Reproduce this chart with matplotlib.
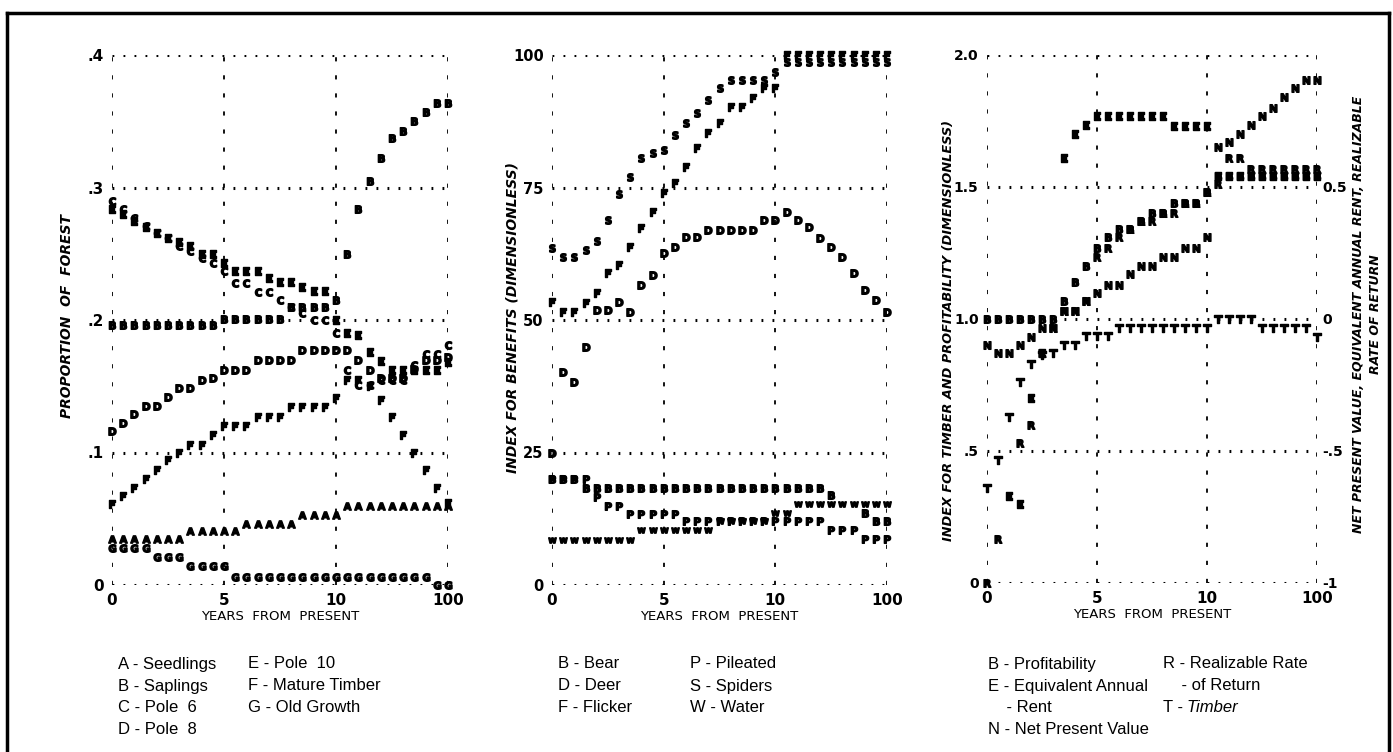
import numpy as np
import matplotlib
matplotlib.use('Agg')
import matplotlib.pyplot as plt
from matplotlib.lines import Line2D

nan = np.nan

# x positions: 10 steps per segment (0-5, 5-10, 10-100 years)
steps = np.arange(31)
xtick_pos = [0, 10, 20, 30]
xtick_lab = ['0', '5', '10', '100']

# ---- panel 1: proportion of forest ----
forest_A = [.035, .035, .035, .035, .035, .035, .035, .041, .041, .041, .041, .041,
            .046, .046, .046, .046, .046, .053, .053, .053, .053,
            .060, .060, .060, .060, .060, .060, .060, .060, .060, .060]
forest_B = [.196, .196, .196, .196, .196, .196, .196, .196, .196, .196,
            .201, .201, .201, .201, .201, .201, .210, .210, .210, .210, .215,
            .250, .284, .305, .322, .337, .343, .350, .357, .364, .364]
forest_C = [.290, .284, .277, .271, .266, .262, .256, .252, .247, .243,
            .237, .228, .228, .221, .221, .215, .210, .205, .200, .200, .190,
            .162, .151, .151, .155, .155, .155, .166, .174, .174, .181]
forest_D = [.116, .122, .129, .135, .135, .142, .149, .149, .155, .156,
            .162, .162, .162, .170, .170, .170, .170, .177, .177, .177, .177,
            .177, .170, .162, .156, .156, .156, .163, .170, .170, .172]
forest_E = [.284, .280, .275, .270, .266, .262, .259, .256, .250, .250,
            .243, .237, .237, .237, .232, .229, .229, .225, .222, .222, .200,
            .190, .189, .176, .169, .162, .162, .162, .162, .162, .168]
forest_F = [.061, .067, .073, .080, .087, .094, .100, .106, .106, .113,
            .120, .120, .120, .127, .127, .127, .134, .134, .134, .134, .141,
            .155, .155, .150, .140, .127, .113, .100, .087, .073, .062]
forest_G = [.028, .028, .028, .028, .021, .021, .021, .014, .014, .014, .014,
            .006, .006, .006, .006, .006, .006, .006, .006, .006, .006,
            .006, .006, .006, .006, .006, .006, .006, .006, .000, .000]

# ---- panel 2: index for benefits ----
ben_S = [63.6, 61.9, 61.9, 63.2, 65.0, 68.9, 73.8, 77.0, 80.5, 81.5,
         82.0, 84.9, 87.1, 89.0, 91.5, 93.7, 95.3, 95.3, 95.3, 95.3, 96.8,
         98.7, 98.7, 98.7, 98.7, 98.7, 98.7, 98.7, 98.7, 98.7, 98.7]
ben_F = [53.4, 51.5, 51.5, 53.2, 55.1, 58.9, 60.4, 63.8, 67.3, 70.4,
         74.0, 75.8, 78.9, 82.5, 85.3, 87.2, 90.2, 90.2, 91.9, 93.8, 93.8,
         100, 100, 100, 100, 100, 100, 100, 100, 100, 100]
ben_D = [25.0, 40.2, 38.3, 45.0, 51.9, 51.9, 53.4, 51.5, 56.6, 58.5,
         62.6, 63.8, 65.7, 65.7, 67.0, 67.0, 67.0, 67.0, 67.0, 68.9, 68.9,
         70.4, 68.9, 67.5, 65.5, 63.8, 61.9, 58.9, 55.7, 53.8, 51.5]
ben_B = [20.0, 20.0, 20.0, 18.3, 18.3, 18.3, 18.3, 18.3, 18.3, 18.3,
         18.3, 18.3, 18.3, 18.3, 18.3, 18.3, 18.3, 18.3, 18.3, 18.3, 18.3,
         18.3, 18.3, 18.3, 18.3, 17.0, nan, nan, 13.5, 12.0, 12.0]
ben_P = [20.0, 20.0, 20.0, 20.0, 16.6, 15.0, 15.0, 13.4, 13.4, 13.4,
         13.4, 13.4, 12.0, 12.0, 12.0, 12.0, 12.0, 12.0, 12.0, 12.0, 12.0,
         12.0, 12.0, 12.0, 12.0, 10.4, 10.4, 10.4, 8.6, 8.6, 8.6]
ben_W = [8.5, 8.5, 8.5, 8.5, 8.5, 8.5, 8.5, 8.5, 10.4, 10.4,
         10.4, 10.4, 10.4, 10.4, 10.4, 12.0, 12.0, 12.0, 12.0, 12.0, 13.5,
         13.5, 15.3, 15.3, 15.3, 15.3, 15.3, 15.3, 15.3, 15.3, 15.3]

# ---- panel 3: timber & profitability (left), NPV / rent / rate (right) ----
prof_T = [.36, .466, .63, .76, .83, .865, .87, .90, .90, .935,
          .935, .935, .966, .966, .966, .966, .966, .966, .966, .966, .966,
          1.0, 1.0, 1.0, 1.0, .966, .966, .966, .966, .966, .93]
prof_B = [1.0, 1.0, 1.0, 1.0, 1.0, 1.0, 1.0, 1.07, 1.14, 1.20,
          1.27, 1.31, 1.34, 1.34, 1.37, 1.40, 1.40, 1.44, 1.44, 1.44, 1.48,
          1.54, 1.54, 1.54, 1.54, 1.54, 1.54, 1.54, 1.54, 1.54, 1.54]
econ_N = [-.10, -.13, -.13, -.10, -.07, -.034, -.034, .03, .03, .07,
          .10, .13, .13, .17, .20, .20, .235, .235, .27, .27, .31,
          .65, .67, .70, .735, .77, .80, .84, .875, .905, .905]
econ_E = [nan, nan, -.67, -.70, -.30, -.13, nan, .61, .70, .735,
          .77, .77, .77, .77, .77, .77, .77, .73, .73, .73, .73,
          .54, .54, .54, .54, .54, .54, .54, .54, .54, .54]
econ_R = [-1.0, -.833, nan, -.47, -.40, -.13, -.034, .03, .03, .07,
          .235, .27, .31, .34, .37, .37, .40, .40, .44, .44, .48,
          .51, .61, .61, .57, .57, .57, .57, .57, .57, .57]

W, H = 1393, 752
fig = plt.figure(figsize=(W / 100, H / 100), dpi=100)


def px_axes(x0, x1, y0, y1):
    return fig.add_axes([x0 / W, 1 - y1 / H, (x1 - x0) / W, (y1 - y0) / H])


def style(ax, yticks, ylabels, ysize=11):
    ax.set_xlim(0, 30)
    ax.set_xticks(xtick_pos)
    ax.set_xticklabels(xtick_lab)
    ax.set_yticks(yticks)
    ax.set_yticklabels(ylabels)
    for s in ax.spines.values():
        s.set_visible(False)
    ax.tick_params(length=0, labelsize=11, pad=6)
    ax.tick_params(axis='y', pad=6, labelsize=ysize)
    for lab in ax.get_xticklabels() + ax.get_yticklabels():
        lab.set_fontweight('bold')
    ax.grid(axis='y', color='black', linestyle=(0, (0.6, 3.0)), linewidth=2.2)
    ax.grid(axis='x', color='black', linestyle=(0, (2.3, 7.7)), linewidth=1.3)
    ax.set_xlabel('YEARS  FROM  PRESENT', fontsize=9.5, labelpad=1)


def letters(ax, series, labels):
    for vals, lab in zip(series, labels):
        ax.plot(steps, vals, linestyle='none', marker=r'$\mathbf{%s}$' % lab,
                markersize=5.5, color='black', clip_on=False)


# panel 1
ax1 = px_axes(112, 448, 55, 585)
ax1.set_ylim(0, 0.4)
style(ax1, [0, .1, .2, .3, .4], ['0', '.1', '.2', '.3', '.4'])
letters(ax1, [forest_A, forest_B, forest_C, forest_D, forest_E, forest_F, forest_G],
        ['A', 'B', 'C', 'D', 'E', 'F', 'G'])
ax1.set_ylabel('PROPORTION  OF  FOREST', fontsize=10, fontweight='bold',
               fontstyle='italic')
ax1.yaxis.set_label_coords(-0.113, 0.508)

# panel 2
ax2 = px_axes(552, 887, 55, 585)
ax2.set_ylim(0, 100)
style(ax2, [0, 25, 50, 75, 100], ['0', '25', '50', '75', '100'], ysize=10.5)
letters(ax2, [ben_S, ben_F, ben_D, ben_B, ben_P, ben_W],
        ['S', 'F', 'D', 'B', 'P', 'W'])
ax2.set_ylabel('INDEX FOR BENEFITS (DIMENSIONLESS)', fontsize=10, fontweight='bold',
               fontstyle='italic')
ax2.yaxis.set_label_coords(-0.098, 0.504)

# panel 3
ax3 = px_axes(987, 1317, 55, 583)
ax3.set_ylim(0, 2.0)
style(ax3, [0, .5, 1.0, 1.5, 2.0], ['0', '.5', '1.0', '1.5', '2.0'], ysize=10)
letters(ax3, [prof_T, prof_B], ['T', 'B'])
ax3.set_ylabel('INDEX FOR TIMBER AND PROFITABILITY (DIMENSIONLESS)', fontsize=9.3,
               fontweight='bold', fontstyle='italic')
ax3.yaxis.set_label_coords(-0.097, 0.479)

ax3r = ax3.twinx()
ax3r.set_ylim(-1, 1)
ax3r.set_yticks([-1, -.5, 0, .5])
ax3r.set_yticklabels(['-1', '-.5', '0', '0.5'])
for s in ax3r.spines.values():
    s.set_visible(False)
ax3r.tick_params(length=0, labelsize=10, pad=4)
for lab in ax3r.get_yticklabels():
    lab.set_fontweight('bold')
letters(ax3r, [econ_N, econ_E, econ_R], ['N', 'E', 'R'])

fig.text(1367 / W, 1 - 314 / H,
         'NET PRESENT VALUE, EQUIVALENT ANNUAL RENT, REALIZABLE\nRATE OF RETURN',
         rotation=90, ha='center', va='center', multialignment='center',
         fontsize=9, linespacing=1.4, fontweight='bold', fontstyle='italic')

# legends under the panels
leg_font = ['Liberation Sans', 'DejaVu Sans']
legend_cols = [
    (118, ['A - Seedlings', 'B - Saplings', 'C - Pole  6', 'D - Pole  8']),
    (248, ['E - Pole  10', 'F - Mature Timber', 'G - Old Growth']),
    (558, ['B - Bear', 'D - Deer', 'F - Flicker']),
    (690, ['P - Pileated', 'S - Spiders', 'W - Water']),
    (988, ['B - Profitability', 'E - Equivalent Annual', '    - Rent',
           'N - Net Present Value']),
    (1163, ['R - Realizable Rate', '    - of Return']),
]
row_y = [664, 686, 707, 729]
for x, items in legend_cols:
    for i, t in enumerate(items):
        fig.text(x / W, 1 - row_y[i] / H, t, ha='left', va='center',
                 fontsize=12, family=leg_font)
fig.text(1163 / W, 1 - row_y[2] / H, 'T - ', ha='left', va='center',
         fontsize=12, family=leg_font)
fig.text(1187 / W, 1 - row_y[2] / H, 'Timber', ha='left', va='center',
         fontsize=12, family=leg_font, fontstyle='italic')

# page frame
for xs, ys in [([7, 7], [752, 13]), ([7, 1389], [13, 13]), ([1389, 1389], [13, 752])]:
    fig.add_artist(Line2D([x / W for x in xs], [1 - y / H for y in ys],
                          color='black', linewidth=2.5))

fig.savefig('out.png', dpi=100)
